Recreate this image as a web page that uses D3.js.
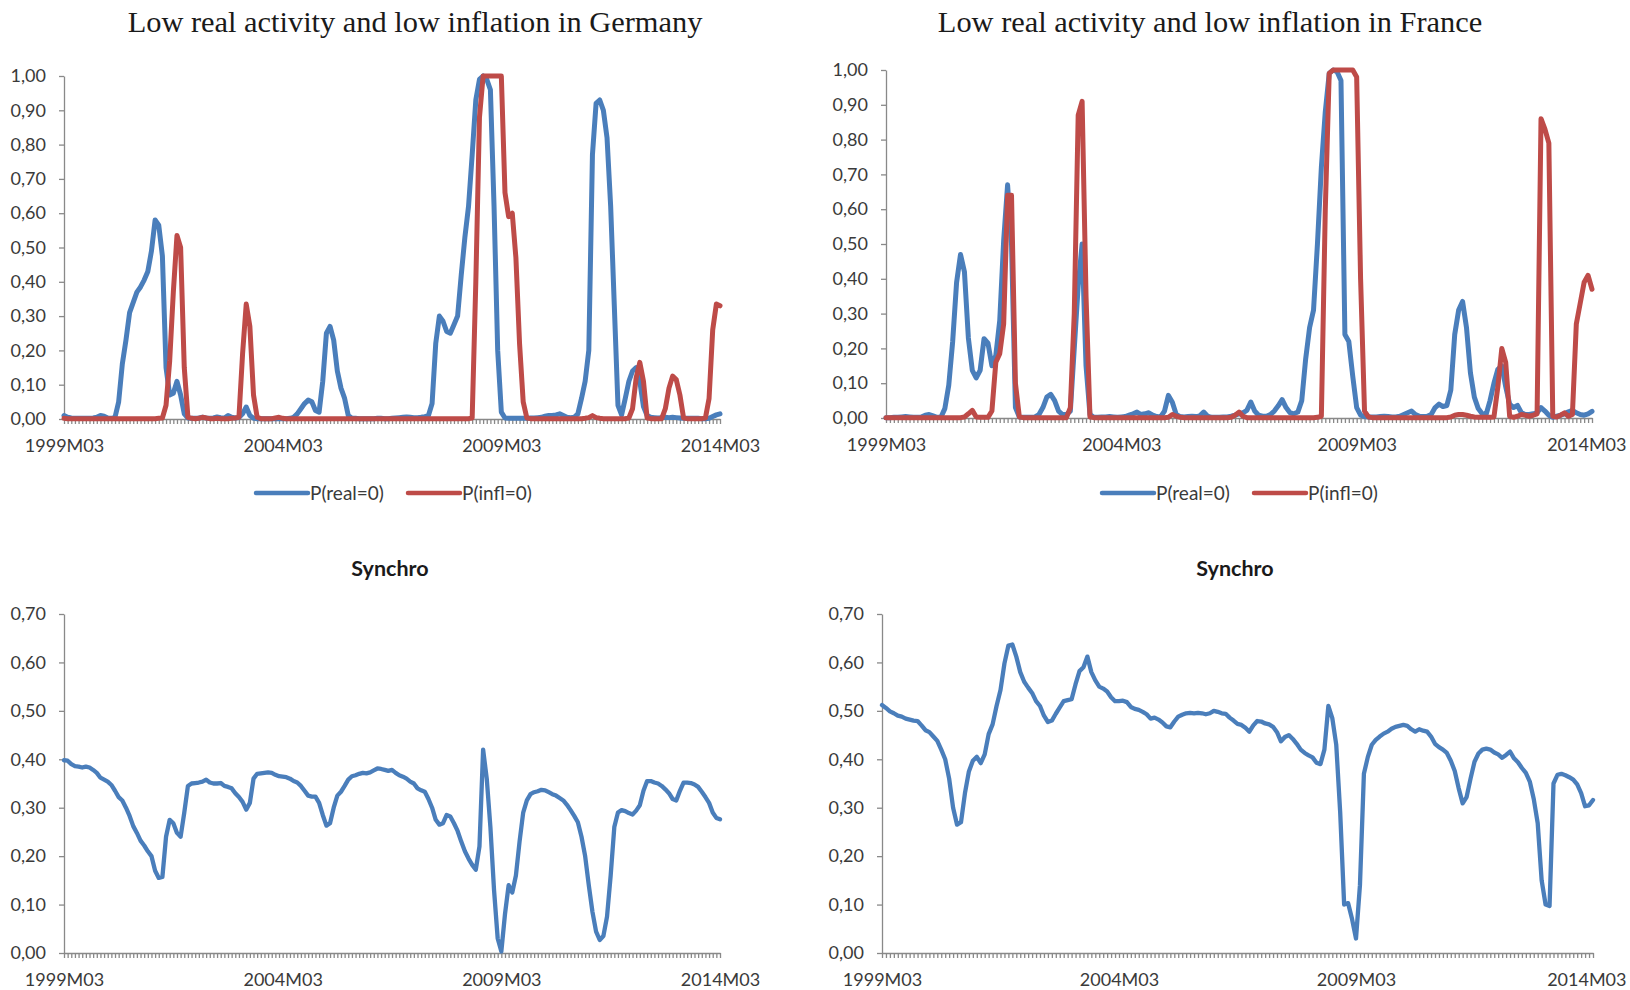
<!DOCTYPE html>
<html>
<head>
<meta charset="utf-8">
<script src="https://cdn.jsdelivr.net/npm/d3@7"></script>
<style>
  body { margin: 0; background: #fff; }
  svg { display: block; }
  .axis path, .axis line { stroke: #898989; stroke-width: 1.3px; }
  .axis text { font-family: Lato, "Open Sans", sans-serif; font-size: 18px; fill: #3a3a3a; }
</style>
</head>
<body>
<svg id="chart" width="1630" height="990"></svg>
<script>
// monthly observations, 1999M03 .. 2014M03 (181 months)
const startYear = 1999, startMonth = 3, monthCount = 181;
const months = d3.range(monthCount).map(i => {
    const m = startMonth - 1 + i;
    return `${startYear + Math.floor(m / 12)}M${String(m % 12 + 1).padStart(2, '0')}`;
});
const xTickLabels = ['1999M03', '2004M03', '2009M03', '2014M03'];
const probTicks = [0, 0.1, 0.2, 0.3, 0.4, 0.5, 0.6, 0.7, 0.8, 0.9, 1.0];
const syncTicks = [0, 0.1, 0.2, 0.3, 0.4, 0.5, 0.6, 0.7];
const seriesNames = ['P(real=0)', 'P(infl=0)'];

// Germany, P(real=0)
const gerReal = [
    0.010,0.005,0.003,0.002,0.002,0.002,0.002,0.002,0.003,0.005,0.010,0.008,
    0.003,0.002,0.005,0.050,0.160,0.230,0.310,0.340,0.370,0.385,0.405,0.430,
    0.490,0.580,0.565,0.475,0.150,0.070,0.075,0.110,0.070,0.015,0.003,0.002,
    0.002,0.003,0.005,0.003,0.002,0.003,0.006,0.004,0.003,0.010,0.005,0.003,
    0.004,0.015,0.035,0.010,0.002,0.001,0.001,0.001,0.001,0.001,0.001,0.001,
    0.001,0.001,0.002,0.005,0.015,0.030,0.045,0.055,0.050,0.025,0.020,0.110,
    0.250,0.270,0.230,0.140,0.090,0.060,0.010,0.002,0.002,0.001,0.001,0.001,
    0.001,0.001,0.002,0.002,0.001,0.001,0.002,0.003,0.004,0.005,0.006,0.005,
    0.004,0.004,0.005,0.007,0.010,0.045,0.220,0.300,0.285,0.255,0.250,0.275,
    0.300,0.420,0.530,0.620,0.770,0.930,0.990,1.000,0.990,0.960,0.620,0.200,
    0.020,0.003,0.002,0.002,0.002,0.002,0.002,0.002,0.003,0.003,0.004,0.005,
    0.008,0.010,0.010,0.012,0.015,0.010,0.005,0.004,0.005,0.015,0.060,0.110,
    0.200,0.770,0.920,0.930,0.900,0.820,0.620,0.330,0.040,0.012,0.060,0.110,
    0.140,0.150,0.110,0.036,0.010,0.005,0.004,0.003,0.004,0.005,0.004,0.005,
    0.004,0.003,0.002,0.002,0.002,0.002,0.002,0.001,0.001,0.002,0.007,0.012,
    0.015
];

// Germany, P(infl=0)
const gerInfl = [
    0.002,0.001,0.001,0.001,0.001,0.001,0.001,0.001,0.001,0.001,0.001,0.001,
    0.001,0.001,0.001,0.001,0.001,0.001,0.001,0.001,0.001,0.001,0.001,0.001,
    0.001,0.001,0.002,0.003,0.040,0.170,0.370,0.535,0.500,0.150,0.005,0.002,
    0.001,0.002,0.005,0.003,0.001,0.001,0.002,0.001,0.001,0.001,0.002,0.003,
    0.005,0.190,0.335,0.270,0.070,0.005,0.001,0.001,0.001,0.001,0.003,0.005,
    0.002,0.001,0.001,0.001,0.001,0.001,0.001,0.001,0.001,0.001,0.001,0.001,
    0.001,0.001,0.001,0.001,0.001,0.001,0.001,0.001,0.001,0.001,0.001,0.001,
    0.001,0.001,0.001,0.001,0.001,0.001,0.001,0.001,0.001,0.001,0.001,0.001,
    0.001,0.001,0.001,0.001,0.001,0.001,0.001,0.001,0.001,0.001,0.001,0.001,
    0.001,0.001,0.001,0.001,0.003,0.400,0.880,1.000,1.000,1.000,1.000,1.000,
    1.000,0.660,0.590,0.600,0.470,0.220,0.050,0.003,0.001,0.001,0.001,0.001,
    0.001,0.001,0.001,0.001,0.001,0.001,0.001,0.001,0.001,0.001,0.001,0.002,
    0.004,0.010,0.004,0.002,0.001,0.001,0.001,0.001,0.001,0.001,0.001,0.003,
    0.030,0.120,0.165,0.110,0.003,0.001,0.001,0.001,0.001,0.030,0.090,0.125,
    0.115,0.070,0.003,0.001,0.001,0.001,0.001,0.001,0.003,0.060,0.260,0.335,
    0.330
];

// France, P(real=0)
const frReal = [
    0.001,0.001,0.002,0.002,0.003,0.004,0.003,0.002,0.002,0.003,0.008,0.010,
    0.006,0.002,0.002,0.027,0.094,0.220,0.390,0.470,0.420,0.230,0.137,0.115,
    0.137,0.228,0.215,0.150,0.180,0.280,0.510,0.670,0.500,0.030,0.003,0.002,
    0.002,0.002,0.003,0.010,0.030,0.060,0.068,0.050,0.020,0.010,0.010,0.020,
    0.200,0.380,0.500,0.150,0.010,0.002,0.002,0.003,0.003,0.004,0.003,0.002,
    0.003,0.004,0.008,0.012,0.017,0.010,0.012,0.015,0.008,0.004,0.003,0.020,
    0.065,0.045,0.010,0.004,0.003,0.004,0.005,0.004,0.006,0.017,0.005,0.002,
    0.002,0.002,0.003,0.003,0.005,0.008,0.012,0.015,0.022,0.046,0.020,0.008,
    0.005,0.005,0.010,0.020,0.035,0.053,0.030,0.015,0.012,0.017,0.050,0.170,
    0.260,0.310,0.500,0.720,0.880,0.990,1.000,0.995,0.970,0.240,0.220,0.120,
    0.030,0.008,0.004,0.003,0.003,0.003,0.004,0.005,0.004,0.003,0.003,0.005,
    0.010,0.015,0.020,0.010,0.005,0.004,0.005,0.010,0.030,0.040,0.033,0.036,
    0.080,0.240,0.310,0.335,0.260,0.130,0.060,0.027,0.012,0.010,0.050,0.100,
    0.140,0.150,0.090,0.040,0.030,0.036,0.015,0.010,0.010,0.012,0.015,0.030,
    0.020,0.008,0.002,0.005,0.008,0.012,0.018,0.022,0.015,0.010,0.008,0.012,
    0.019
];

// France, P(infl=0)
const frInfl = [
    0.001,0.001,0.001,0.001,0.001,0.001,0.001,0.001,0.001,0.001,0.001,0.001,
    0.001,0.001,0.001,0.001,0.001,0.001,0.001,0.001,0.003,0.012,0.022,0.003,
    0.002,0.002,0.002,0.020,0.160,0.185,0.270,0.640,0.640,0.100,0.003,0.001,
    0.001,0.001,0.001,0.001,0.001,0.001,0.001,0.001,0.001,0.001,0.001,0.030,
    0.300,0.870,0.910,0.350,0.003,0.001,0.001,0.001,0.001,0.001,0.001,0.001,
    0.001,0.001,0.001,0.001,0.001,0.001,0.001,0.001,0.001,0.001,0.001,0.001,
    0.002,0.010,0.005,0.002,0.001,0.001,0.001,0.001,0.001,0.001,0.001,0.001,
    0.001,0.001,0.001,0.001,0.002,0.008,0.017,0.005,0.001,0.001,0.001,0.001,
    0.001,0.001,0.001,0.001,0.001,0.001,0.001,0.001,0.001,0.001,0.001,0.001,
    0.001,0.001,0.002,0.005,0.600,0.990,1.000,1.000,1.000,1.000,1.000,1.000,
    0.980,0.400,0.020,0.003,0.001,0.001,0.001,0.001,0.001,0.001,0.001,0.001,
    0.001,0.001,0.001,0.001,0.001,0.001,0.001,0.001,0.001,0.001,0.001,0.001,
    0.003,0.008,0.010,0.010,0.008,0.005,0.003,0.002,0.002,0.002,0.002,0.003,
    0.090,0.200,0.160,0.005,0.002,0.005,0.010,0.008,0.005,0.008,0.012,0.860,
    0.830,0.790,0.005,0.003,0.008,0.015,0.005,0.010,0.270,0.330,0.390,0.410,
    0.370
];

// Synchro, Germany
const gerSync = [
    0.398,0.397,0.390,0.386,0.385,0.383,0.385,0.383,0.378,0.372,0.362,0.358,
    0.354,0.347,0.335,0.322,0.315,0.300,0.283,0.262,0.248,0.232,0.222,0.210,
    0.200,0.170,0.155,0.157,0.240,0.275,0.268,0.248,0.240,0.290,0.345,0.350,
    0.351,0.352,0.354,0.358,0.352,0.350,0.350,0.351,0.345,0.343,0.340,0.330,
    0.322,0.312,0.296,0.310,0.360,0.370,0.371,0.372,0.373,0.372,0.368,0.365,
    0.364,0.363,0.360,0.355,0.352,0.345,0.335,0.325,0.323,0.323,0.310,0.285,
    0.263,0.268,0.300,0.325,0.333,0.345,0.358,0.365,0.367,0.370,0.372,0.371,
    0.373,0.377,0.381,0.380,0.378,0.376,0.378,0.372,0.367,0.364,0.360,0.354,
    0.350,0.340,0.336,0.333,0.318,0.300,0.275,0.265,0.268,0.285,0.282,0.268,
    0.252,0.230,0.210,0.195,0.182,0.172,0.220,0.420,0.360,0.260,0.130,0.030,
    0.003,0.080,0.140,0.125,0.160,0.230,0.290,0.315,0.328,0.332,0.334,0.337,
    0.336,0.332,0.328,0.325,0.320,0.315,0.306,0.295,0.283,0.270,0.240,0.200,
    0.140,0.085,0.044,0.027,0.035,0.075,0.160,0.260,0.290,0.295,0.293,0.289,
    0.286,0.294,0.305,0.335,0.355,0.355,0.352,0.350,0.345,0.338,0.330,0.318,
    0.315,0.335,0.352,0.352,0.351,0.348,0.343,0.333,0.322,0.310,0.290,0.279,
    0.276
];

// Synchro, France
const frSync = [
    0.512,0.506,0.499,0.495,0.490,0.488,0.484,0.482,0.480,0.479,0.470,0.460,
    0.456,0.447,0.438,0.420,0.400,0.360,0.300,0.265,0.270,0.330,0.375,0.397,
    0.405,0.392,0.410,0.452,0.472,0.510,0.543,0.598,0.635,0.637,0.612,0.580,
    0.560,0.548,0.537,0.520,0.510,0.490,0.477,0.480,0.494,0.507,0.520,0.522,
    0.524,0.555,0.582,0.590,0.612,0.580,0.563,0.550,0.546,0.540,0.528,0.520,
    0.520,0.521,0.518,0.508,0.504,0.502,0.498,0.493,0.484,0.486,0.482,0.476,
    0.468,0.466,0.478,0.488,0.492,0.495,0.496,0.495,0.496,0.495,0.493,0.495,
    0.500,0.498,0.495,0.494,0.486,0.480,0.473,0.471,0.465,0.457,0.470,0.479,
    0.478,0.474,0.472,0.467,0.456,0.437,0.446,0.450,0.442,0.432,0.420,0.413,
    0.408,0.404,0.393,0.390,0.420,0.510,0.485,0.430,0.290,0.100,0.103,0.070,
    0.030,0.140,0.370,0.405,0.430,0.440,0.447,0.453,0.457,0.463,0.467,0.469,
    0.471,0.469,0.462,0.457,0.462,0.459,0.457,0.447,0.432,0.425,0.420,0.413,
    0.397,0.376,0.340,0.309,0.322,0.360,0.395,0.412,0.420,0.422,0.420,0.414,
    0.410,0.403,0.409,0.416,0.402,0.394,0.382,0.372,0.354,0.318,0.268,0.150,
    0.100,0.097,0.350,0.368,0.370,0.367,0.363,0.358,0.348,0.330,0.303,0.305,
    0.316
];

const colors = { real: '#4a7ebb', infl: '#be4b48' };
const commaFormat = d3.formatLocale({ decimal: ',', thousands: '.', grouping: [3], currency: ['', ''] }).format('.2f');
const pageRight = 1626;

const svg = d3.select('#chart');

function drawPanel(cfg) {
    const x = d3.scalePoint().domain(months).range([cfg.left, cfg.right]);
    const y = d3.scaleLinear().domain([0, cfg.max]).range([cfg.bottom, cfg.top]);
    const g = svg.append('g');

    g.append('g')
        .attr('class', 'axis')
        .attr('transform', `translate(${cfg.left},0)`)
        .call(d3.axisLeft(y).tickValues(cfg.ticks).tickSize(5).tickSizeOuter(0).tickPadding(13).tickFormat(commaFormat));

    const xAxisG = g.append('g')
        .attr('class', 'axis')
        .attr('transform', `translate(0,${cfg.bottom})`)
        .call(d3.axisBottom(x).tickValues(months).tickSize(5).tickSizeOuter(0).tickPadding(15)
            .tickFormat(d => xTickLabels.includes(d) ? d : ''));

    // keep the last label inside the page, as the original does
    xAxisG.selectAll('.tick').each(function (d) {
        const text = d3.select(this).select('text');
        if (!text.text()) return;
        const half = text.node().getComputedTextLength() / 2;
        const over = x(d) + half - pageRight;
        if (over > 0) text.attr('x', -over);
    });

    const line = d3.line()
        .x((d, i) => x(months[i]))
        .y(d => y(d));

    cfg.series.forEach(s => {
        g.append('path')
            .datum(s.values)
            .attr('fill', 'none')
            .attr('stroke', s.color)
            .attr('stroke-width', cfg.lineWidth)
            .attr('stroke-linejoin', 'round')
            .attr('stroke-linecap', 'round')
            .attr('d', line);
    });

    const title = g.append('text')
        .attr('x', cfg.titleX)
        .attr('y', cfg.titleY)
        .attr('text-anchor', 'middle')
        .attr('fill', '#1a1a1a')
        .text(cfg.title);
    if (cfg.serifTitle) {
        title.attr('font-family', '"Liberation Serif", "Times New Roman", serif')
            .attr('font-size', 30.4);
    } else {
        title.attr('font-family', 'Lato, "Open Sans", sans-serif')
            .attr('font-size', 21.5)
            .attr('font-weight', 'bold');
    }

    if (cfg.legendX !== undefined) {
        const legend = g.append('g').attr('transform', `translate(${cfg.legendX},${cfg.legendY})`);
        cfg.series.forEach((s, i) => {
            const item = legend.append('g').attr('transform', `translate(${i * 152},0)`);
            item.append('line')
                .attr('x1', 0).attr('x2', 52)
                .attr('stroke', s.color)
                .attr('stroke-width', 4.5)
                .attr('stroke-linecap', 'round');
            item.append('text')
                .attr('x', 54)
                .attr('dy', '0.35em')
                .attr('font-family', 'Lato, "Open Sans", sans-serif')
                .attr('font-size', 19)
                .attr('fill', '#3a3a3a')
                .text(s.name);
        });
    }
}

drawPanel({
    left: 64, right: 720, top: 76, bottom: 419, max: 1, ticks: probTicks, lineWidth: 5,
    title: 'Low real activity and low inflation in Germany', titleX: 415, titleY: 32, serifTitle: true,
    legendX: 256, legendY: 493,
    series: [
        { name: seriesNames[0], values: gerReal, color: colors.real },
        { name: seriesNames[1], values: gerInfl, color: colors.infl }
    ]
});

drawPanel({
    left: 886, right: 1592, top: 70, bottom: 418, max: 1, ticks: probTicks, lineWidth: 5,
    title: 'Low real activity and low inflation in France', titleX: 1210, titleY: 32, serifTitle: true,
    legendX: 1102, legendY: 493,
    series: [
        { name: seriesNames[0], values: frReal, color: colors.real },
        { name: seriesNames[1], values: frInfl, color: colors.infl }
    ]
});

drawPanel({
    left: 64, right: 720, top: 614, bottom: 953, max: 0.7, ticks: syncTicks, lineWidth: 4.3,
    title: 'Synchro', titleX: 390, titleY: 576,
    series: [{ name: 'Synchro', values: gerSync, color: colors.real }]
});

drawPanel({
    left: 882, right: 1593, top: 614, bottom: 953, max: 0.7, ticks: syncTicks, lineWidth: 4.3,
    title: 'Synchro', titleX: 1235, titleY: 576,
    series: [{ name: 'Synchro', values: frSync, color: colors.real }]
});
</script>
</body>
</html>
